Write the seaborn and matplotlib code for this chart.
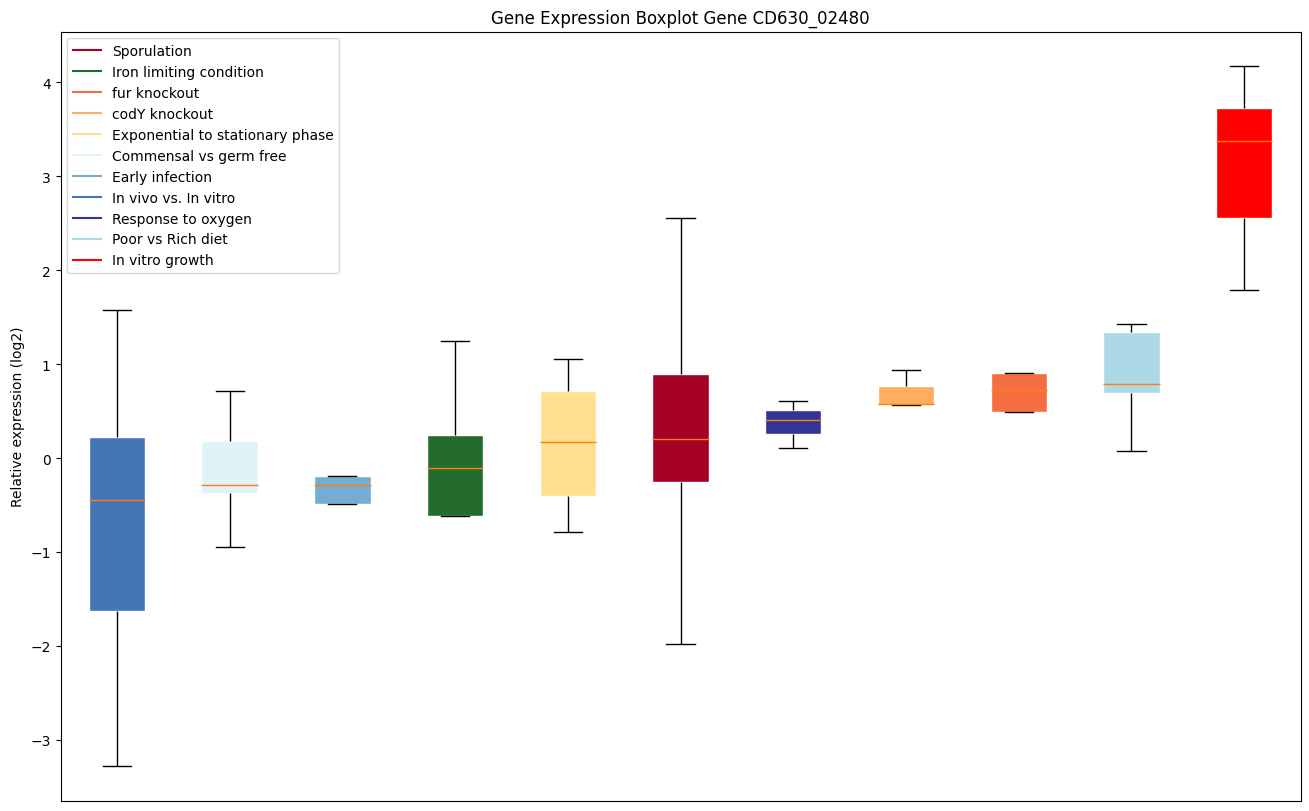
#!/usr/bin/env python3

import pandas as pd
import seaborn as sns
import matplotlib.pyplot as plt
from matplotlib.lines import Line2D

GENE = "CD630_02480"

# boxes in plotted order (sorted by median)
conditions = [
    "In vivo vs. In vitro",
    "Commensal vs germ free",
    "Early infection",
    "Iron limiting condition",
    "Exponential to stationary phase",
    "Sporulation",
    "Response to oxygen",
    "codY knockout",
    "fur knockout",
    "Poor vs Rich diet",
    "In vitro growth",
]

# five values per condition: min, q1, median, q3, max
values = {
    "In vivo vs. In vitro": [-3.28, -1.63, -0.45, 0.22, 1.58],
    "Commensal vs germ free": [-0.95, -0.37, -0.29, 0.18, 0.71],
    "Early infection": [-0.49, -0.49, -0.29, -0.19, -0.19],
    "Iron limiting condition": [-0.62, -0.62, -0.11, 0.25, 1.25],
    "Exponential to stationary phase": [-0.79, -0.40, 0.17, 0.71, 1.06],
    "Sporulation": [-1.98, -0.25, 0.20, 0.90, 2.56],
    "Response to oxygen": [0.11, 0.26, 0.41, 0.51, 0.61],
    "codY knockout": [0.57, 0.57, 0.58, 0.77, 0.94],
    "fur knockout": [0.49, 0.49, 0.72, 0.91, 0.91],
    "Poor vs Rich diet": [0.08, 0.69, 0.79, 1.34, 1.43],
    "In vitro growth": [1.79, 2.56, 3.38, 3.73, 4.17],
}

legend_order = [
    "Sporulation",
    "Iron limiting condition",
    "fur knockout",
    "codY knockout",
    "Exponential to stationary phase",
    "Commensal vs germ free",
    "Early infection",
    "In vivo vs. In vitro",
    "Response to oxygen",
    "Poor vs Rich diet",
    "In vitro growth",
]

colors = {
    "Sporulation": "#a50026",
    "Iron limiting condition": "#246b2e",
    "fur knockout": "#f46d43",
    "codY knockout": "#fdae61",
    "Exponential to stationary phase": "#fee090",
    "Commensal vs germ free": "#e0f3f8",
    "Early infection": "#74add1",
    "In vivo vs. In vitro": "#4575b4",
    "Response to oxygen": "#313695",
    "Poor vs Rich diet": "#add8e6",
    "In vitro growth": "#ff0000",
}

rows = []
for cond in conditions:
    for v in values[cond]:
        rows.append({"condition": cond, "value": v})
df = pd.DataFrame(rows)

fig = plt.figure(figsize=(13.09, 8.12), dpi=100)
ax = fig.add_axes([60.5 / 1309, 1 - 802 / 812, 1240 / 1309, 769.5 / 812])

sns.boxplot(
    df,
    x="condition",
    y="value",
    hue="condition",
    order=conditions,
    hue_order=conditions,
    palette=colors,
    saturation=1,
    width=0.5,
    whis=(0, 100),
    linewidth=1,
    linecolor="black",
    capwidths=0.25,
    boxprops=dict(edgecolor="white", linewidth=1),
    medianprops=dict(color="#ff7f0e", linewidth=1),
    legend=False,
    ax=ax,
)

ax.set_xlim(-0.5, len(conditions) - 0.5)
ax.set_xticks([])
ax.set_xlabel("")
ax.set_ylabel("Relative expression (log2)")
ax.set_title("Gene Expression Boxplot Gene {}".format(GENE))

handles = [Line2D([0], [0], color=colors[c], lw=1.5) for c in legend_order]
ax.legend(handles, legend_order, loc="upper left")

plt.savefig("out.png", dpi=100)
